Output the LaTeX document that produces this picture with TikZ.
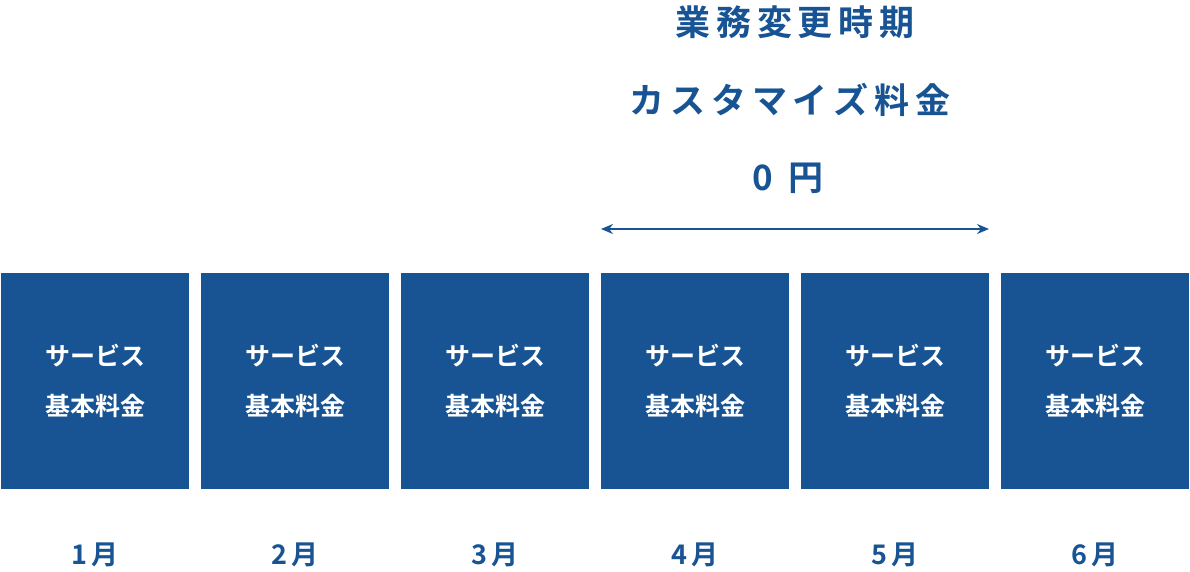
\documentclass[tikz,border=0pt]{standalone}
\usepackage{fontspec}
\newfontfamily\cjk{Noto Sans CJK JP}[BoldFont={Noto Sans CJK JP Bold}]
\definecolor{mainblue}{HTML}{185494}
\usetikzlibrary{arrows.meta}
\begin{document}
\begin{tikzpicture}[x=1pt,y=-1pt,
  feebox/.style={fill=mainblue,draw=none,minimum width=188pt,minimum height=216pt,inner sep=0pt,text=white,font=\cjk\bfseries\fontsize{25}{50}\selectfont,align=center},
  month/.style={text=mainblue,font=\cjk\bfseries\fontsize{27}{30}\selectfont},
  head/.style={text=mainblue,font=\cjk\bfseries\fontsize{35}{40}\selectfont}]
\useasboundingbox (0,0) rectangle (1190,571);
\foreach \i in {1,...,6}{
  \node[feebox] (b\i) at ({95+200*(\i-1)},381) {サービス\\基本料金};
  \node[month] (m\i) at ({95+200*(\i-1)},555) {\i\,月};
}
\node[head] (t1) at (795,22) {業\,務\,変\,更\,時\,期};
\node[head] (t2) at (790,100) {カ\,ス\,タ\,マ\,イ\,ズ\,料\,金};
\node[head] (t3) at (788,178) {0\ \ 円};
\coordinate (al) at (601,229);
\coordinate (ar) at (989,229);
\draw[mainblue,line width=2pt,{Stealth[length=12pt,width=10pt]}-{Stealth[length=12pt,width=10pt]}] (al) -- (ar);
\end{tikzpicture}
\end{document}
